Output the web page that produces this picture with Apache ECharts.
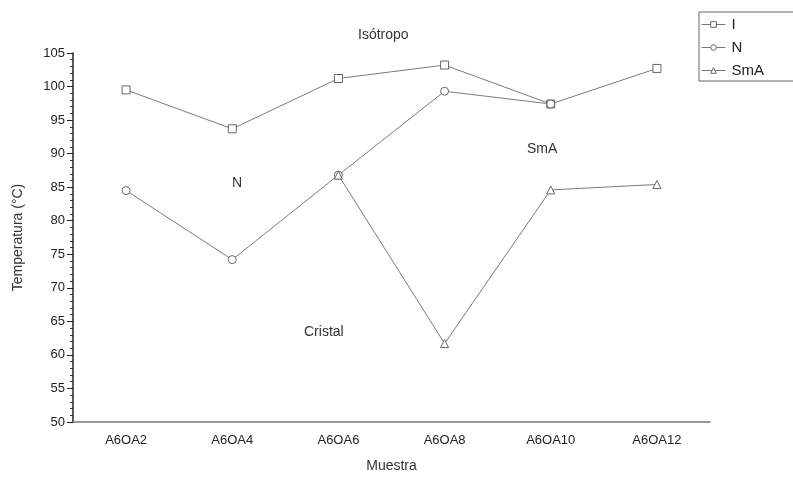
<!DOCTYPE html>
<html>
<head>
<meta charset="utf-8">
<script src="https://cdn.jsdelivr.net/npm/echarts@6/dist/echarts.min.js"></script>
<style>html,body{margin:0;padding:0;background:#fff;}#c{width:793px;height:478px;}</style>
</head>
<body>
<div id="c"></div>
<script>
var categories = ['A6OA2', 'A6OA4', 'A6OA6', 'A6OA8', 'A6OA10', 'A6OA12'];
var seriesI = [99.5, 93.7, 101.2, 103.2, 97.4, 102.7];
var seriesN = [84.5, 74.2, 86.8, 99.3, 97.4, null];
var seriesSmA = [null, null, 86.8, 61.7, 84.6, 85.4];
var yTicks = {min: 50, max: 105, interval: 5};

var chart = echarts.init(document.getElementById('c'));
var lineColor = '#7a7a7a';
var fontFam = 'Liberation Sans, Arial, sans-serif';
function mkSeries(name, data, symbol) {
  return {
    name: name, type: 'line', data: data, symbol: symbol, symbolSize: 8,
    showAllSymbol: true, connectNulls: false,
    lineStyle: {color: lineColor, width: 1},
    itemStyle: {color: '#fff', borderColor: '#666', borderWidth: 1},
    emphasis: {disabled: true}, animation: false, z: 3
  };
}
chart.setOption({
  animation: false,
  grid: {left: 73, right: 83, top: 53, bottom: 54},
  legend: {
    orient: 'vertical', left: 699, top: 12, width: 100,
    borderColor: '#666', borderWidth: 1, padding: [5, 40, 3, 2],
    itemGap: 8, itemWidth: 24, itemHeight: 7,
    lineStyle: {width: 1, color: '#777'},
    itemStyle: {borderWidth: 1, color: '#fff', borderColor: '#666'},
    textStyle: {fontFamily: fontFam, fontSize: 15, color: '#222', padding: [0, 0, 0, 1]},
    data: ['I', 'N', 'SmA']
  },
  xAxis: {
    type: 'category', data: categories, boundaryGap: true,
    axisLine: {lineStyle: {color: '#777', width: 1.5}},
    axisTick: {alignWithLabel: true, length: 6, lineStyle: {color: '#333'}},
    axisLabel: {fontFamily: fontFam, fontSize: 13, color: '#222', margin: 12},
    name: 'Muestra', nameLocation: 'middle', nameGap: 37,
    nameTextStyle: {fontFamily: fontFam, fontSize: 14, color: '#333'}
  },
  yAxis: {
    type: 'value', min: yTicks.min, max: yTicks.max, interval: yTicks.interval,
    axisLine: {show: true, lineStyle: {color: '#222', width: 1.5}},
    axisTick: {show: true, length: 6, lineStyle: {color: '#222'}},
    minorTick: {show: true, splitNumber: 5, length: 3, lineStyle: {color: '#333'}},
    splitLine: {show: false},
    axisLabel: {fontFamily: fontFam, fontSize: 13, color: '#222', margin: 8},
    name: 'Temperatura (°C)', nameLocation: 'middle', nameGap: 48,
    nameTextStyle: {fontFamily: fontFam, fontSize: 14, color: '#333'}
  },
  graphic: [
    {type: 'text', left: 358, top: 28, style: {text: 'Isótropo', font: '14px ' + fontFam, fill: '#333'}},
    {type: 'text', left: 232, top: 176, style: {text: 'N', font: '14px ' + fontFam, fill: '#333'}},
    {type: 'text', left: 527, top: 142, style: {text: 'SmA', font: '14px ' + fontFam, fill: '#333'}},
    {type: 'text', left: 304, top: 325, style: {text: 'Cristal', font: '14px ' + fontFam, fill: '#333'}}
  ],
  series: [
    mkSeries('I', seriesI, 'rect'),
    mkSeries('N', seriesN, 'circle'),
    mkSeries('SmA', seriesSmA, 'triangle')
  ]
});
</script>
</body>
</html>
